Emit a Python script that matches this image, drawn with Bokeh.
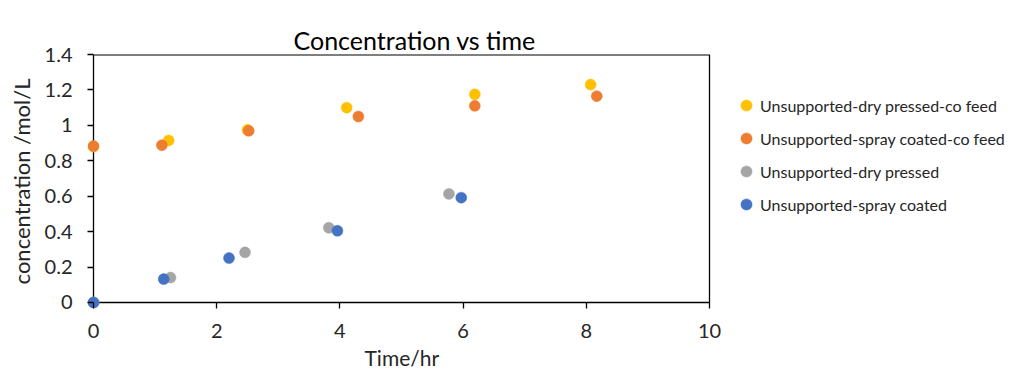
from bokeh.plotting import figure
from bokeh.models import Range1d, Legend, LegendItem, Title
from bokeh.embed import file_html
from bokeh.resources import INLINE

# ---- data ----
dry_co_x = [0, 1.22, 2.50, 4.11, 6.19, 8.07]
dry_co_y = [0.88, 0.915, 0.975, 1.10, 1.175, 1.23]
spray_co_x = [0, 1.11, 2.52, 4.30, 6.19, 8.17]
spray_co_y = [0.883, 0.888, 0.969, 1.05, 1.11, 1.165]
dry_x = [0, 1.25, 2.46, 3.82, 5.77]
dry_y = [0, 0.141, 0.283, 0.422, 0.613]
spray_x = [0, 1.14, 2.20, 3.96, 5.97]
spray_y = [0, 0.132, 0.251, 0.405, 0.592]

series_names = ["Unsupported-dry pressed-co feed", "Unsupported-spray coated-co feed",
                "Unsupported-dry pressed", "Unsupported-spray coated"]
colors = ["#FFC000", "#ED7D31", "#A5A5A5", "#4472C4"]
x_ticks = [0, 2, 4, 6, 8, 10]
y_ticks = [0, 0.2, 0.4, 0.6, 0.8, 1, 1.2, 1.4]
y_tick_labels = ["0", "0.2", "0.4", "0.6", "0.8", "1", "1.2", "1.4"]
title_text = "Concentration vs time"
x_label = "Time/hr"
y_label = "concentration /mol/L"

X_MIN, X_MAX = 0, 10
Y_MIN, Y_MAX = 0, 1.4
FONT = "Lato"

# frame spans the plot area plus the legend area on the right; x=10 sits at the plot box edge
p = figure(width=1013, height=376, output_backend="svg", toolbar_location=None,
           x_range=Range1d(X_MIN - 0.0974, X_MAX + 4.935), y_range=Range1d(Y_MIN - 0.0339, Y_MAX),
           min_border_left=87, min_border_right=0, min_border_top=54, min_border_bottom=68,
           title=title_text)
p.outline_line_color = None
p.xgrid.visible = False
p.ygrid.visible = False
p.background_fill_color = "white"
p.border_fill_color = "white"

p.title.align = "left"
p.title.vertical_align = "bottom"
p.title.offset = 206
p.title.standoff = 0
p.title.text_font = FONT
p.title.text_font_size = "25px"
p.title.text_font_style = "normal"
p.title.text_color = "#000000"

# transparent spacer between the title and the plot box
spacer = Title(text=" ", align="left", standoff=7, text_font=FONT, text_font_size="10px",
               text_alpha=0)
p.add_layout(spacer, "above")

# plot-area box (axis lines at 0, border at max)
p.segment(x0=[X_MIN, X_MAX, X_MIN, X_MIN], y0=[Y_MAX, Y_MIN, Y_MIN, Y_MIN],
          x1=[X_MAX, X_MAX, X_MAX, X_MIN], y1=[Y_MAX, Y_MAX, Y_MIN, Y_MAX],
          line_color="black", line_width=[2, 1.3, 1.3, 1.3])

renderers = []
for (xs, ys), c in zip([(dry_co_x, dry_co_y), (spray_co_x, spray_co_y), (dry_x, dry_y), (spray_x, spray_y)], colors):
    r = p.scatter(xs, ys, size=11, fill_color=c, line_color=c, line_width=0.5)
    renderers.append(r)

legend = Legend(items=[LegendItem(label=n, renderers=[r]) for n, r in zip(series_names, renderers)],
                location=(645, 90), padding=0, margin=0, border_line_color=None,
                background_fill_alpha=0, glyph_width=28, glyph_height=28, label_height=28,
                spacing=5, label_standoff=0, label_text_font=FONT, label_text_font_size="16px",
                label_text_color="#262626")
p.add_layout(legend, "center")

for ax in (p.xaxis[0], p.yaxis[0]):
    ax.axis_line_color = None
    ax.major_tick_line_color = "black"
    ax.major_tick_line_width = 1.3
    ax.major_tick_out = 0
    ax.major_tick_in = 6
    ax.minor_tick_line_color = None
    ax.major_label_text_font = FONT
    ax.major_label_text_font_size = "20px"
    ax.major_label_text_color = "#262626"
    ax.axis_label_text_font = FONT
    ax.axis_label_text_font_style = "normal"
    ax.axis_label_text_color = "#262626"

p.xaxis.ticker = x_ticks
p.xaxis.major_label_standoff = 15

xlab = Title(text=x_label, align="left", offset=277, standoff=4, text_font=FONT,
             text_font_size="21px", text_font_style="normal", text_color="#262626")
p.add_layout(xlab, "below")

p.yaxis.ticker = y_ticks
p.yaxis.major_label_overrides = {t: l for t, l in zip(y_ticks, y_tick_labels)}
p.yaxis.axis_label = y_label
p.yaxis.axis_label_text_font_size = "22px"
p.yaxis.major_label_standoff = 15
p.yaxis.axis_label_standoff = 7

open("out.html", "w").write(file_html(p, INLINE))
